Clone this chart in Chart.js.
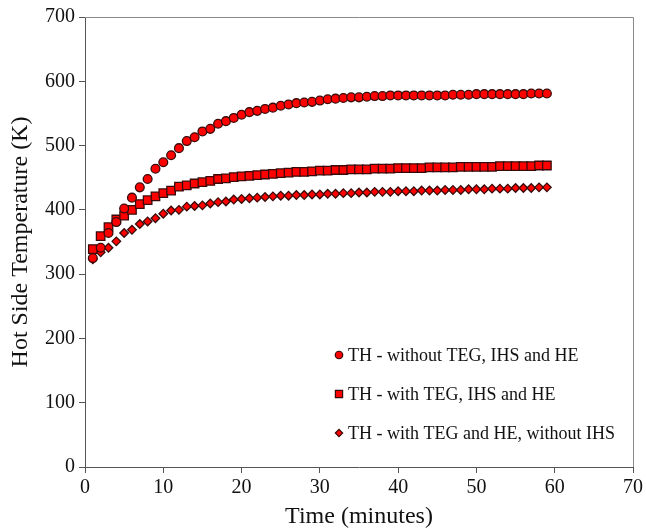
<!DOCTYPE html>
<html>
<head>
<meta charset="utf-8">
<script src="https://cdn.jsdelivr.net/npm/chart.js@4.4.1/dist/chart.umd.min.js"></script>
<style>
    html, body { margin: 0; padding: 0; background: #fff; }
    #wrap { width: 646px; height: 529px; }
</style>
</head>
<body>
<div id="wrap"><canvas id="myChart" width="646" height="529"></canvas></div>
<script>
// Time in minutes
var minutes = [1, 2, 3, 4, 5, 6, 7, 8, 9, 10, 11, 12, 13, 14, 15, 16, 17, 18, 19, 20,
    21, 22, 23, 24, 25, 26, 27, 28, 29, 30, 31, 32, 33, 34, 35, 36, 37, 38, 39, 40,
    41, 42, 43, 44, 45, 46, 47, 48, 49, 50, 51, 52, 53, 54, 55, 56, 57, 58, 59];

// TH - without TEG, IHS and HE
var thNoTeg = [325, 341, 364, 381, 402, 419, 435, 448, 464, 474, 485, 496, 507, 513, 522, 526, 534, 538, 543, 548,
    552, 554, 557, 559, 562, 564, 566, 567, 568, 570, 572, 573, 574, 575, 575, 576, 577, 577, 578, 578,
    578, 578, 578, 578, 578, 578, 579, 579, 579, 580, 580, 580, 580, 580, 580, 580, 581, 581, 581];

// TH - with TEG, IHS and HE
var thTegIhs = [339, 359, 373, 385, 391, 400, 409, 415, 421, 426, 430, 436, 438, 441, 443, 445, 448, 449, 451, 452,
    453, 454, 455, 456, 457, 458, 459, 459, 460, 461, 461, 462, 462, 463, 463, 463, 464, 464, 464, 465,
    465, 465, 465, 466, 466, 466, 466, 467, 467, 467, 467, 467, 468, 468, 468, 468, 468, 469, 469];

// TH - with TEG and HE, without IHS
var thNoIhs = [323, 334, 341, 351, 364, 369, 378, 382, 387, 394, 399, 400, 405, 406, 407, 410, 412, 413, 416, 417,
    418, 419, 420, 421, 422, 422, 423, 423, 424, 424, 425, 425, 426, 426, 427, 427, 428, 428, 428, 429,
    429, 429, 430, 430, 430, 431, 431, 431, 432, 432, 432, 433, 433, 433, 434, 434, 434, 435, 435];

var labels = ['TH - without TEG, IHS and HE', 'TH - with TEG, IHS and HE', 'TH - with TEG and HE, without IHS'];
var xTicks = [0, 10, 20, 30, 40, 50, 60, 70];
var yTicks = [0, 100, 200, 300, 400, 500, 600, 700];

var fontFamily = '"Liberation Serif", serif';

function toPoints(values) {
    return values.map(function (v, i) { return { x: minutes[i], y: v }; });
}

function series(label, values, style, radius) {
    return {
        label: label,
        data: toPoints(values),
        showLine: false,
        pointStyle: style,
        pointRadius: radius,
        pointHoverRadius: radius,
        pointBackgroundColor: '#ff0000',
        pointBorderColor: '#3a0a0a',
        pointBorderWidth: 1.3
    };
}

// box round the plot + legend inside the plot
var boxAndLegend = {
    id: 'boxAndLegend',
    afterDraw: function (chart) {
        var ctx = chart.ctx,
            area = chart.chartArea;

        ctx.save();
        ctx.strokeStyle = '#8a8a8a';
        ctx.lineWidth = 1;
        ctx.beginPath();
        ctx.moveTo(area.left, area.top + 0.5);
        ctx.lineTo(area.right + 0.5, area.top + 0.5);
        ctx.lineTo(area.right + 0.5, area.bottom);
        ctx.stroke();

        var lx = 339, ly = [355, 394, 433];
        ctx.font = '18px ' + fontFamily;
        ctx.textBaseline = 'middle';
        chart.data.datasets.forEach(function (ds, i) {
            ctx.fillStyle = '#ff0000';
            ctx.strokeStyle = '#3a0a0a';
            ctx.lineWidth = 1.2;
            Chart.helpers.drawPoint(ctx, {
                pointStyle: ds.pointStyle,
                radius: ds.pointRadius * 0.85,
                rotation: 0,
                borderWidth: 1.2
            }, lx, ly[i]);
            ctx.fillStyle = '#111';
            ctx.fillText(ds.label, lx + 9, ly[i] + 1);
        });
        ctx.restore();
    }
};

var ctx = document.getElementById('myChart').getContext('2d');
var myChart = new Chart(ctx, {
    type: 'scatter',
    data: {
        datasets: [
            series(labels[0], thNoTeg, 'circle', 4.4),
            series(labels[1], thTegIhs, 'rect', 6),
            series(labels[2], thNoIhs, 'rectRot', 4.3)
        ]
    },
    options: {
        responsive: false,
        animation: false,
        layout: { padding: { top: 17, right: 8, left: 0, bottom: 0 } },
        plugins: {
            legend: { display: false },
            tooltip: { enabled: false }
        },
        scales: {
            x: {
                type: 'linear',
                min: 0,
                max: 70,
                afterBuildTicks: function (scale) {
                    scale.ticks = xTicks.map(function (v) { return { value: v }; });
                },
                afterFit: function (scale) { scale.height = 62; },
                grid: { display: true, drawOnChartArea: false, drawTicks: true, tickLength: 6, color: '#555' },
                border: { color: '#555', width: 1 },
                ticks: { color: '#111', font: { family: fontFamily, size: 20 }, padding: 3, maxRotation: 0 },
                title: { display: true, text: 'Time (minutes)', color: '#111', font: { family: fontFamily, size: 24, lineHeight: 1 }, padding: { top: 0, bottom: 0 } }
            },
            y: {
                min: 0,
                max: 700,
                afterBuildTicks: function (scale) {
                    scale.ticks = yTicks.map(function (v) { return { value: v }; });
                },
                afterFit: function (scale) { scale.width = 85; },
                grid: { display: true, drawOnChartArea: false, drawTicks: true, tickLength: 6, color: '#555' },
                border: { color: '#555', width: 1 },
                ticks: { color: '#111', font: { family: fontFamily, size: 20 }, padding: 4 },
                title: { display: true, text: 'Hot Side Temperature (K)', color: '#111', font: { family: fontFamily, size: 24 }, padding: { top: 6, bottom: 0 } }
            }
        }
    },
    plugins: [boxAndLegend]
});
</script>
</body>
</html>
